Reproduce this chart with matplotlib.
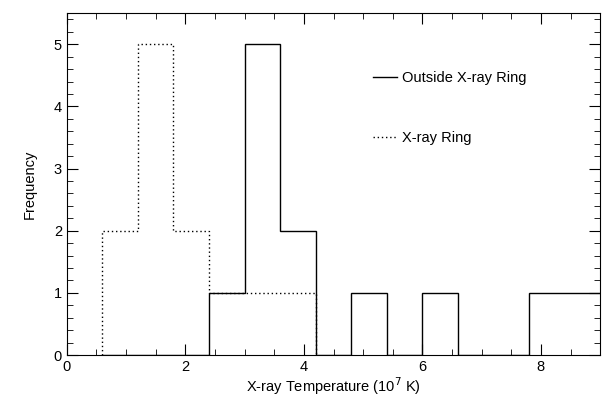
import numpy as np
import matplotlib.pyplot as plt
from matplotlib.ticker import MultipleLocator

# bin edges (10^7 K) and counts
edges = [0.6, 1.2, 1.8, 2.4, 3.0, 3.6, 4.2, 4.8, 5.4, 6.0, 6.6, 7.2, 7.8, 8.4, 9.0]
outside = [0, 0, 0, 1, 5, 2, 0, 1, 0, 1, 0, 0, 1, 1]
ring = [2, 5, 2, 1, 1, 1, 0, 0, 0, 0, 0, 0, 0, 0]

plt.rcParams['font.family'] = ['Liberation Sans', 'DejaVu Sans']
fig = plt.figure(figsize=(6.02, 3.98), dpi=100)
ax = fig.add_axes([0.111, 0.108, 0.886, 0.859])

# ring: draw only where it has data
ring_edges = edges[:7]
ax.stairs(ring[:6], ring_edges, color='black', linestyle=(0, (1, 2)), linewidth=1.0,
          baseline=0, label='X-ray Ring')
ax.stairs(outside, edges, color='black', linewidth=1.0, baseline=None, label='Outside X-ray Ring')

ax.set_xlim(0, 9.0)
ax.set_ylim(0, 5.5)
ax.xaxis.set_major_locator(MultipleLocator(2))
ax.xaxis.set_minor_locator(MultipleLocator(0.5))
ax.yaxis.set_major_locator(MultipleLocator(1))
ax.yaxis.set_minor_locator(MultipleLocator(0.2))
ax.tick_params(which='both', direction='in', top=True, right=True, labelsize=10.5)
ax.tick_params(which='major', length=8)
ax.tick_params(which='minor', length=4)
ax.set_xlabel('X-ray Temperature (10$^7$ K)', fontsize=10.5, labelpad=1)
ax.set_ylabel('Frequency', fontsize=10.5, labelpad=12)

h, l = ax.get_legend_handles_labels()
ax.legend(h[::-1], l[::-1], loc='upper left', bbox_to_anchor=(0.55, 0.87), frameon=False,
          fontsize=10.5, handlelength=1.6, handletextpad=0.4, labelspacing=3.15)

fig.savefig('out.png', dpi=100)
